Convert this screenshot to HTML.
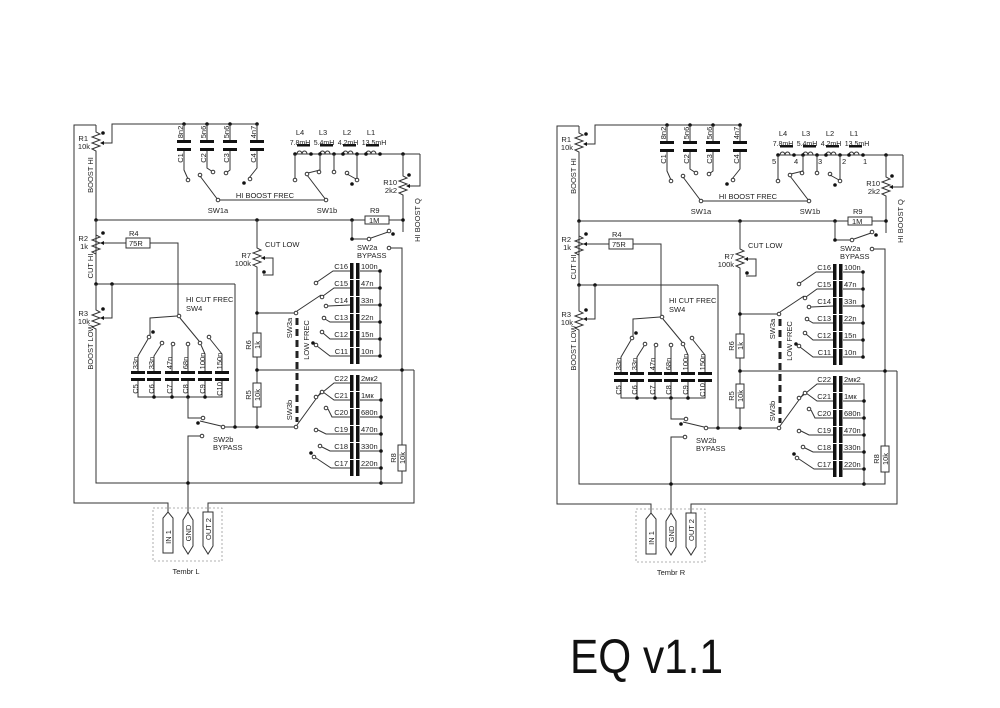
<!DOCTYPE html>
<html><head><meta charset="utf-8"><style>
html,body{margin:0;padding:0;background:#fff;}
svg{display:block;font-family:"Liberation Sans",sans-serif;}
.w{fill:none;stroke:#333;stroke-width:1;}
.t{font-size:7.5px;fill:#222;}
.o{fill:#fff;stroke:#333;stroke-width:1;}
.d{fill:#111;}
.p{fill:#111;}
</style></head><body>
<svg width="1000" height="708" viewBox="0 0 1000 708" xmlns="http://www.w3.org/2000/svg">
<defs>
<g id="c">
<polyline class="w" points="96,125 74,125 74,503 168,503 168,512"/>
<polyline class="w" points="208,512 208,503 414,503 414,370"/>
<polyline class="w" points="96,125 96,132 100,134 92,137 100,140 92,143 100,146 92,149 96,151 96,284"/>
<polyline class="w" points="101,143 112,143 112,124 257,124"/>
<path class="p" d="M100,143 l4,-2 v4z"/>
<circle class="d" cx="103" cy="133" r="1.8"/>
<text class="t" x="88" y="141" text-anchor="end">R1</text>
<text class="t" x="90" y="149" text-anchor="end">10k</text>
<text class="t" transform="rotate(-90 90 175)" x="90" y="178" text-anchor="middle">BOOST HI</text>
<g class="d">
<circle cx="184" cy="124" r="1.8"/><circle cx="207" cy="124" r="1.8"/><circle cx="230" cy="124" r="1.8"/><circle cx="257" cy="124" r="1.8"/>
<rect x="177" y="140" width="14" height="3"/><rect x="177" y="148" width="14" height="3"/>
<rect x="200" y="140" width="14" height="3"/><rect x="200" y="148" width="14" height="3"/>
<rect x="223" y="140" width="14" height="3"/><rect x="223" y="148" width="14" height="3"/>
<rect x="250" y="140" width="14" height="3"/><rect x="250" y="148" width="14" height="3"/>
</g>
<line class="w" x1="184" y1="124" x2="184" y2="140"/><line class="w" x1="207" y1="124" x2="207" y2="140"/><line class="w" x1="230" y1="124" x2="230" y2="140"/><line class="w" x1="257" y1="124" x2="257" y2="140"/>
<polyline class="w" points="184,151 184,170 188,179"/>
<polyline class="w" points="207,151 207,168 213,172"/>
<polyline class="w" points="230,151 230,170 226,173"/>
<polyline class="w" points="257,151 257,168 249,178"/>
<g class="t">
<text transform="rotate(-90 180 132)" x="180" y="135" text-anchor="middle">8n2</text>
<text transform="rotate(-90 203 132)" x="203" y="135" text-anchor="middle">5n6</text>
<text transform="rotate(-90 226 132)" x="226" y="135" text-anchor="middle">5n6</text>
<text transform="rotate(-90 253 132)" x="253" y="135" text-anchor="middle">4n7</text>
<text transform="rotate(-90 180 158)" x="180" y="161" text-anchor="middle">C1</text>
<text transform="rotate(-90 203 158)" x="203" y="161" text-anchor="middle">C2</text>
<text transform="rotate(-90 226 158)" x="226" y="161" text-anchor="middle">C3</text>
<text transform="rotate(-90 253 158)" x="253" y="161" text-anchor="middle">C4</text>
</g>
<circle class="o" cx="188" cy="180" r="1.8"/><circle class="o" cx="200" cy="175" r="1.8"/><circle class="o" cx="213" cy="172" r="1.8"/><circle class="o" cx="226" cy="173" r="1.8"/><circle class="o" cx="250" cy="179" r="1.8"/>
<circle class="d" cx="244" cy="183" r="1.8"/>
<polyline class="w" points="200,176 218,200 326,200 307,175"/>
<circle class="o" cx="218" cy="200" r="1.8"/><circle class="o" cx="326" cy="200" r="1.8"/>
<text class="t" x="265" y="198" text-anchor="middle">HI BOOST FREC</text>
<text class="t" x="218" y="213" text-anchor="middle">SW1a</text>
<text class="t" x="327" y="213" text-anchor="middle">SW1b</text>
<line class="w" x1="295" y1="154" x2="420" y2="154"/>
<g class="p"><rect x="297" y="144" width="13" height="2.5"/><rect x="320" y="144" width="13" height="2.5"/><rect x="343" y="144" width="13" height="2.5"/><rect x="366" y="144" width="13" height="2.5"/></g>
<path class="w" d="M297,154 a2.5,3 0 0 1 5,0 a2.5,3 0 0 1 5,0 M320,154 a2.5,3 0 0 1 5,0 a2.5,3 0 0 1 5,0 M343,154 a2.5,3 0 0 1 5,0 a2.5,3 0 0 1 5,0 M366,154 a2.5,3 0 0 1 5,0 a2.5,3 0 0 1 5,0"/>
<g class="d"><circle cx="295" cy="154" r="1.8"/><circle cx="311" cy="154" r="1.8"/><circle cx="320" cy="154" r="1.8"/><circle cx="334" cy="154" r="1.8"/><circle cx="343" cy="154" r="1.8"/><circle cx="357" cy="154" r="1.8"/><circle cx="366" cy="154" r="1.8"/><circle cx="380" cy="154" r="1.8"/><circle cx="403" cy="154" r="1.8"/></g>
<g class="t" text-anchor="middle">
<text x="300" y="135">L4</text><text x="323" y="135">L3</text><text x="347" y="135">L2</text><text x="371" y="135">L1</text>
<text x="300" y="145" font-size="7">7.8mH</text><text x="324" y="145" font-size="7">5.4mH</text><text x="348" y="145" font-size="7">4.2mH</text><text x="374" y="145" font-size="7">13.5mH</text>
</g>
<polyline class="w" points="295,154 295,178"/>
<polyline class="w" points="320,154 320,170 308,173"/>
<polyline class="w" points="334,154 334,170"/>
<polyline class="w" points="357,154 357,178"/>
<circle class="o" cx="295" cy="180" r="1.8"/><circle class="o" cx="307" cy="174" r="1.8"/><circle class="o" cx="319" cy="172" r="1.8"/><circle class="o" cx="334" cy="172" r="1.8"/><circle class="o" cx="347" cy="173" r="1.8"/><circle class="o" cx="357" cy="180" r="1.8"/>
<line class="w" x1="347" y1="174" x2="356" y2="179"/>
<circle class="d" cx="352" cy="184" r="1.8"/>
<polyline class="w" points="420,154 420,186 407,186"/>
<path class="p" d="M406,186 l4,-2 v4z"/>
<polyline class="w" points="403,154 403,176 407,178 399,181 407,184 399,187 407,190 399,193 403,195 403,232"/>
<circle class="d" cx="409" cy="175" r="1.8"/>
<text class="t" x="397" y="185" text-anchor="end">R10</text>
<text class="t" x="397" y="193" text-anchor="end">2k2</text>
<text class="t" transform="rotate(-90 417 220)" x="417" y="223" text-anchor="middle">HI BOOST Q</text>
<line class="w" x1="96" y1="220" x2="403" y2="220"/>
<g class="d"><circle cx="96" cy="220" r="1.8"/><circle cx="257" cy="220" r="1.8"/><circle cx="352" cy="220" r="1.8"/><circle cx="403" cy="220" r="1.8"/></g>
<rect x="365" y="216" width="24" height="8" fill="#fff" stroke="#333"/>
<text class="t" x="370" y="213">R9</text><text class="t" x="369" y="223">1M</text>
<polyline class="w" points="352,220 352,239 367,239"/>
<circle class="d" cx="352" cy="239" r="1.8"/>
<circle class="o" cx="369" cy="239" r="1.8"/>
<line class="w" x1="371" y1="238" x2="388" y2="232"/>
<circle class="o" cx="389" cy="231" r="1.8"/>
<circle class="d" cx="393" cy="234" r="1.8"/>
<circle class="o" cx="389" cy="248" r="1.8"/>
<polyline class="w" points="391,248 402,248 402,445"/>
<text class="t" x="357" y="250">SW2a</text><text class="t" x="357" y="258">BYPASS</text>
<polyline class="w" points="96,220 96,235 100,237 92,240 100,243 92,246 100,249 92,252 96,254 96,284"/>
<circle class="d" cx="103" cy="233" r="1.8"/>
<path class="p" d="M100,243 l4,-2 v4z"/>
<polyline class="w" points="104,243 126,243"/>
<rect x="126" y="238" width="24" height="10" fill="#fff" stroke="#333"/>
<text class="t" x="129" y="236">R4</text><text class="t" x="129" y="246">75R</text>
<polyline class="w" points="150,243 178,243 178,314"/>
<text class="t" x="88" y="241" text-anchor="end">R2</text><text class="t" x="88" y="249" text-anchor="end">1k</text>
<text class="t" transform="rotate(-90 90 266)" x="90" y="269" text-anchor="middle">CUT HI</text>
<line class="w" x1="96" y1="284" x2="235" y2="284"/>
<g class="d"><circle cx="96" cy="284" r="1.8"/><circle cx="112" cy="284" r="1.8"/></g>
<polyline class="w" points="96,284 96,310 100,312 92,315 100,318 92,321 100,324 92,327 96,329 96,483 381,483"/>
<polyline class="w" points="112,284 112,318 104,318"/>
<path class="p" d="M100,318 l4,-2 v4z"/>
<circle class="d" cx="103" cy="309" r="1.8"/>
<text class="t" x="88" y="316" text-anchor="end">R3</text><text class="t" x="90" y="324" text-anchor="end">10k</text>
<text class="t" transform="rotate(-90 90 347)" x="90" y="350" text-anchor="middle">BOOST LOW</text>
<polyline class="w" points="235,284 235,427"/>
<text class="t" x="186" y="302">HI CUT FREC</text><text class="t" x="186" y="311">SW4</text>
<circle class="o" cx="179" cy="316" r="1.8"/>
<polyline class="w" points="177,316 150,318 150,335"/>
<line class="w" x1="180" y1="318" x2="199" y2="341"/>
<circle class="d" cx="153" cy="332" r="1.8"/>
<g class="o"><circle cx="149" cy="337" r="1.8"/><circle cx="162" cy="343" r="1.8"/><circle cx="173" cy="344" r="1.8"/><circle cx="188" cy="344" r="1.8"/><circle cx="200" cy="343" r="1.8"/><circle cx="209" cy="337" r="1.8"/></g>
<polyline class="w" points="148,339 138,356 138,372"/>
<polyline class="w" points="161,345 154,356 154,372"/>
<polyline class="w" points="172,346 172,372"/>
<polyline class="w" points="188,346 188,372"/>
<polyline class="w" points="201,345 205,354 205,372"/>
<polyline class="w" points="210,339 222,354 222,372"/>
<g class="p">
<rect x="131" y="371" width="14" height="3"/><rect x="131" y="378" width="14" height="3"/>
<rect x="147" y="371" width="14" height="3"/><rect x="147" y="378" width="14" height="3"/>
<rect x="165" y="371" width="14" height="3"/><rect x="165" y="378" width="14" height="3"/>
<rect x="181" y="371" width="14" height="3"/><rect x="181" y="378" width="14" height="3"/>
<rect x="198" y="371" width="14" height="3"/><rect x="198" y="378" width="14" height="3"/>
<rect x="215" y="371" width="14" height="3"/><rect x="215" y="378" width="14" height="3"/>
</g>
<polyline class="w" points="138,381 138,397 222,397 222,381"/>
<line class="w" x1="154" y1="381" x2="154" y2="397"/><line class="w" x1="172" y1="381" x2="172" y2="397"/><line class="w" x1="188" y1="381" x2="188" y2="397"/><line class="w" x1="205" y1="381" x2="205" y2="397"/>
<g class="d"><circle cx="154" cy="397" r="1.8"/><circle cx="172" cy="397" r="1.8"/><circle cx="188" cy="397" r="1.8"/><circle cx="205" cy="397" r="1.8"/></g>
<g class="t">
<text transform="rotate(-90 135 363)" x="135" y="366" text-anchor="middle">33n</text>
<text transform="rotate(-90 151 363)" x="151" y="366" text-anchor="middle">33n</text>
<text transform="rotate(-90 169 363)" x="169" y="366" text-anchor="middle">47n</text>
<text transform="rotate(-90 185 363)" x="185" y="366" text-anchor="middle">68n</text>
<text transform="rotate(-90 202 361)" x="202" y="364" text-anchor="middle">100n</text>
<text transform="rotate(-90 219 361)" x="219" y="364" text-anchor="middle">150n</text>
<text transform="rotate(-90 135 389)" x="135" y="392" text-anchor="middle">C5</text>
<text transform="rotate(-90 151 389)" x="151" y="392" text-anchor="middle">C6</text>
<text transform="rotate(-90 169 389)" x="169" y="392" text-anchor="middle">C7</text>
<text transform="rotate(-90 185 389)" x="185" y="392" text-anchor="middle">C8</text>
<text transform="rotate(-90 202 389)" x="202" y="392" text-anchor="middle">C9</text>
<text transform="rotate(-90 219 389)" x="219" y="392" text-anchor="middle">C10</text>
</g>
<polyline class="w" points="188,397 188,418 201,418"/>
<circle class="o" cx="203" cy="418" r="1.8"/>
<circle class="d" cx="198" cy="423" r="1.8"/>
<line class="w" x1="200" y1="421" x2="221" y2="426"/>
<circle class="o" cx="223" cy="427" r="1.8"/>
<polyline class="w" points="225,427 296,427"/>
<circle class="d" cx="235" cy="427" r="1.8"/><circle class="d" cx="257" cy="427" r="1.8"/>
<circle class="o" cx="202" cy="436" r="1.8"/>
<polyline class="w" points="200,436 188,436 188,512"/>
<circle class="d" cx="188" cy="483" r="1.8"/>
<text class="t" x="213" y="442">SW2b</text><text class="t" x="213" y="450">BYPASS</text>
<polyline class="w" points="257,220 257,248 261,250 253,253 261,256 253,259 261,262 253,265 257,267 257,333"/>
<polyline class="w" points="261,258 273,258 273,275 263,275"/>
<path class="p" d="M261,258 l4,-2 v4z"/>
<circle class="d" cx="264" cy="272" r="1.8"/>
<text class="t" x="265" y="247">CUT LOW</text>
<text class="t" x="251" y="258" text-anchor="end">R7</text><text class="t" x="251" y="266" text-anchor="end">100k</text>
<rect x="253" y="333" width="8" height="24" fill="#fff" stroke="#333"/>
<line class="w" x1="257" y1="357" x2="257" y2="383"/>
<rect x="253" y="383" width="8" height="24" fill="#fff" stroke="#333"/>
<line class="w" x1="257" y1="407" x2="257" y2="427"/>
<text class="t" transform="rotate(-90 257 345)" x="257" y="348" text-anchor="middle">1k</text>
<text class="t" transform="rotate(-90 257 395)" x="257" y="398" text-anchor="middle">10k</text>
<text class="t" transform="rotate(-90 248 345)" x="248" y="348" text-anchor="middle">R6</text>
<text class="t" transform="rotate(-90 248 395)" x="248" y="398" text-anchor="middle">R5</text>
<line class="w" x1="257" y1="313" x2="294" y2="313"/>
<circle class="d" cx="257" cy="313" r="1.8"/>
<line class="w" x1="257" y1="370" x2="414" y2="370"/>
<g class="d"><circle cx="257" cy="370" r="1.8"/><circle cx="402" cy="370" r="1.8"/></g>
<circle class="o" cx="296" cy="313" r="1.8"/>
<circle class="o" cx="296" cy="427" r="1.8"/>
<line x1="297" y1="318" x2="297" y2="422" stroke="#222" stroke-width="3" stroke-dasharray="7,4"/>
<line class="w" x1="297" y1="311" x2="321" y2="295"/>
<line class="w" x1="297" y1="425" x2="321" y2="392"/>
<text class="t" transform="rotate(-90 289 328)" x="289" y="331" text-anchor="middle">SW3a</text>
<text class="t" transform="rotate(-90 306 340)" x="306" y="343" text-anchor="middle">LOW FREC</text>
<text class="t" transform="rotate(-90 289 410)" x="289" y="413" text-anchor="middle">SW3b</text>
<circle class="d" cx="313" cy="343" r="1.8"/>
<circle class="d" cx="311" cy="453" r="1.8"/>
<g class="p">
<rect x="350" y="263" width="3.5" height="16"/><rect x="356" y="263" width="3.5" height="16"/>
<rect x="350" y="280" width="3.5" height="16"/><rect x="356" y="280" width="3.5" height="16"/>
<rect x="350" y="297" width="3.5" height="16"/><rect x="356" y="297" width="3.5" height="16"/>
<rect x="350" y="314" width="3.5" height="16"/><rect x="356" y="314" width="3.5" height="16"/>
<rect x="350" y="331" width="3.5" height="16"/><rect x="356" y="331" width="3.5" height="16"/>
<rect x="350" y="348" width="3.5" height="16"/><rect x="356" y="348" width="3.5" height="16"/>
</g>
<polyline class="w" points="317,282 333,271 350,271"/>
<polyline class="w" points="323,296 334,288 350,288"/>
<polyline class="w" points="328,306 350,305"/>
<polyline class="w" points="325,319 330,322 350,322"/>
<polyline class="w" points="323,333 330,339 350,339"/>
<polyline class="w" points="317,346 330,356 350,356"/>
<g class="o"><circle cx="316" cy="283" r="1.8"/><circle cx="322" cy="297" r="1.8"/><circle cx="326" cy="306" r="1.8"/><circle cx="324" cy="318" r="1.8"/><circle cx="322" cy="332" r="1.8"/><circle cx="316" cy="345" r="1.8"/></g>
<polyline class="w" points="360,271 380,271 380,356 360,356"/>
<line class="w" x1="360" y1="288" x2="380" y2="288"/><line class="w" x1="360" y1="305" x2="380" y2="305"/><line class="w" x1="360" y1="322" x2="380" y2="322"/><line class="w" x1="360" y1="339" x2="380" y2="339"/>
<g class="d"><circle cx="380" cy="271" r="1.8"/><circle cx="380" cy="288" r="1.8"/><circle cx="380" cy="305" r="1.8"/><circle cx="380" cy="322" r="1.8"/><circle cx="380" cy="339" r="1.8"/><circle cx="380" cy="356" r="1.8"/></g>
<g class="t">
<text x="348" y="269" text-anchor="end">C16</text><text x="361" y="269">100n</text>
<text x="348" y="286" text-anchor="end">C15</text><text x="361" y="286">47n</text>
<text x="348" y="303" text-anchor="end">C14</text><text x="361" y="303">33n</text>
<text x="348" y="320" text-anchor="end">C13</text><text x="361" y="320">22n</text>
<text x="348" y="337" text-anchor="end">C12</text><text x="361" y="337">15n</text>
<text x="348" y="354" text-anchor="end">C11</text><text x="361" y="354">10n</text>
</g>
<g class="p">
<rect x="350" y="375" width="3.5" height="16"/><rect x="356" y="375" width="3.5" height="16"/>
<rect x="350" y="392" width="3.5" height="16"/><rect x="356" y="392" width="3.5" height="16"/>
<rect x="350" y="409" width="3.5" height="16"/><rect x="356" y="409" width="3.5" height="16"/>
<rect x="350" y="426" width="3.5" height="16"/><rect x="356" y="426" width="3.5" height="16"/>
<rect x="350" y="443" width="3.5" height="16"/><rect x="356" y="443" width="3.5" height="16"/>
<rect x="350" y="460" width="3.5" height="16"/><rect x="356" y="460" width="3.5" height="16"/>
</g>
<polyline class="w" points="318,396 334,383 350,383"/>
<polyline class="w" points="323,392 334,400 350,400"/>
<polyline class="w" points="328,409 332,417 350,417"/>
<polyline class="w" points="318,430 326,434 350,434"/>
<polyline class="w" points="322,447 330,451 350,451"/>
<polyline class="w" points="316,458 331,468 350,468"/>
<g class="o"><circle cx="316" cy="397" r="1.8"/><circle cx="322" cy="392" r="1.8"/><circle cx="326" cy="408" r="1.8"/><circle cx="316" cy="430" r="1.8"/><circle cx="320" cy="446" r="1.8"/><circle cx="314" cy="457" r="1.8"/></g>
<polyline class="w" points="360,383 381,383 381,483"/>
<line class="w" x1="360" y1="400" x2="381" y2="400"/><line class="w" x1="360" y1="417" x2="381" y2="417"/><line class="w" x1="360" y1="434" x2="381" y2="434"/><line class="w" x1="360" y1="451" x2="381" y2="451"/><line class="w" x1="360" y1="468" x2="381" y2="468"/>
<g class="d"><circle cx="381" cy="400" r="1.8"/><circle cx="381" cy="417" r="1.8"/><circle cx="381" cy="434" r="1.8"/><circle cx="381" cy="451" r="1.8"/><circle cx="381" cy="468" r="1.8"/><circle cx="381" cy="483" r="1.8"/></g>
<g class="t">
<text x="348" y="381" text-anchor="end">C22</text><text x="361" y="381">2мк2</text>
<text x="348" y="398" text-anchor="end">C21</text><text x="361" y="398">1мк</text>
<text x="348" y="415" text-anchor="end">C20</text><text x="361" y="415">680n</text>
<text x="348" y="432" text-anchor="end">C19</text><text x="361" y="432">470n</text>
<text x="348" y="449" text-anchor="end">C18</text><text x="361" y="449">330n</text>
<text x="348" y="466" text-anchor="end">C17</text><text x="361" y="466">220n</text>
</g>
<rect x="398" y="445" width="8" height="26" fill="#fff" stroke="#333"/>
<polyline class="w" points="402,471 402,483 381,483"/>
<text class="t" transform="rotate(-90 402 458)" x="402" y="461" text-anchor="middle">10k</text>
<text class="t" transform="rotate(-90 393 458)" x="393" y="461" text-anchor="middle">R8</text>
<rect x="153" y="508" width="69" height="53" fill="none" stroke="#999" stroke-width="0.8" stroke-dasharray="2,2"/>
<path class="w" d="M163,553 V518 L168,512 L173,518 V553 Z"/>
<path class="w" d="M183,520 L188,512 L193,520 V546 L188,554 L183,546 Z"/>
<path class="w" d="M203,512 H213 V546 L208,554 L203,546 Z"/>
<text class="t" transform="rotate(-90 168 537)" x="168" y="540" text-anchor="middle">IN 1</text>
<text class="t" transform="rotate(-90 188 533)" x="188" y="536" text-anchor="middle">GND</text>
<text class="t" transform="rotate(-90 208 529)" x="208" y="532" text-anchor="middle">OUT 2</text>
</g>
</defs>
<rect width="1000" height="708" fill="#fff"/>
<use href="#c"/>
<use href="#c" transform="translate(483,1)"/>
<text class="t" x="186" y="574" text-anchor="middle">Tembr L</text>
<text class="t" x="671" y="575" text-anchor="middle">Tembr R</text>
<g class="t">
<text x="772" y="164">5</text><text x="794" y="164">4</text><text x="818" y="164">3</text><text x="842" y="164">2</text><text x="863" y="164">1</text>
</g>
<text x="570" y="673" font-size="48" fill="#111" textLength="153" lengthAdjust="spacingAndGlyphs">EQ v1.1</text>
</svg>
</body></html>
